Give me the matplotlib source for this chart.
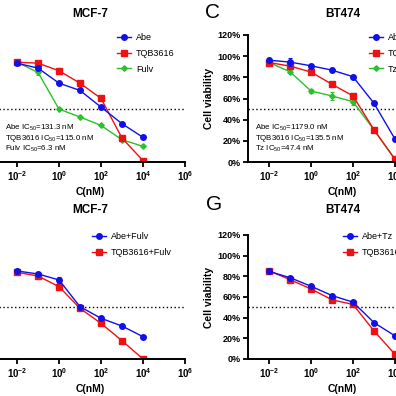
import numpy as np
import matplotlib.pyplot as plt

plt.rcParams["font.family"] = ["Liberation Sans", "DejaVu Sans"]
plt.rcParams["mathtext.fontset"] = "custom"
plt.rcParams["mathtext.rm"] = "Liberation Sans"
plt.rcParams["mathtext.bf"] = "Liberation Sans:bold"
plt.rcParams["mathtext.it"] = "Liberation Sans:italic"

conc = [1e-2, 1e-1, 1e0, 1e1, 1e2, 1e3, 1e4]

# MCF-7 single agents
mcf_abe = [93.4, 88.7, 74.5, 67.6, 51.9, 36.2, 23.3]
mcf_tqb = [94.3, 93.4, 86.2, 74.5, 60.1, 22.6, 1.3]
mcf_fulv = [94.3, 84.6, 50.0, 42.5, 34.6, 21.0, 14.8]
mcf_abe_err = [0.8, 1.0, 1.2, 1.2, 1.0, 1.0, 1.0]
mcf_tqb_err = [0.8, 1.0, 2.5, 2.5, 1.5, 1.2, 1.0]
mcf_fulv_err = [0.8, 2.0, 0.8, 0.8, 0.8, 0.8, 0.8]

# BT474 single agents
bt_abe = [96.2, 94.4, 90.9, 86.8, 80.6, 55.5, 21.6]
bt_tqb = [94.0, 90.6, 85.0, 73.4, 62.4, 30.4, 2.5]
bt_tz = [94.0, 85.3, 67.1, 62.4, 57.0, 30.4, 2.5]
bt_abe_err = [2.0, 3.5, 1.0, 1.0, 1.0, 2.0, 1.2]
bt_tqb_err = [1.0, 1.5, 1.0, 1.0, 3.0, 1.0, 1.0]
bt_tz_err = [1.0, 1.5, 1.5, 3.5, 3.0, 1.0, 1.0]

# combos
mcf_abe_fulv = [85.2, 82.3, 76.5, 50.6, 39.4, 31.9, 21.6]
mcf_tqb_fulv = [83.9, 80.3, 70.0, 49.0, 34.5, 17.7, 0.0]
mcf_abe_fulv_err = [1.0, 1.0, 2.5, 1.5, 1.0, 1.0, 1.0]
mcf_tqb_fulv_err = [1.0, 1.0, 1.0, 1.0, 1.0, 1.0, 1.0]
bt_abe_tz = [84.8, 78.7, 70.4, 61.4, 55.0, 35.2, 22.4]
bt_tqb_tz = [85.4, 76.8, 67.8, 57.3, 52.8, 27.2, 4.5]
bt_abe_tz_err = [1.0, 1.5, 1.0, 1.0, 1.0, 1.0, 1.0]
bt_tqb_tz_err = [1.0, 2.0, 1.2, 1.5, 1.0, 2.5, 1.5]

xticks = [1e-2, 1e0, 1e2, 1e4, 1e6]
xticklabels = [r"$\mathbf{10^{-2}}$", r"$\mathbf{10^{0}}$", r"$\mathbf{10^{2}}$",
               r"$\mathbf{10^{4}}$", r"$\mathbf{10^{6}}$"]
yticks = [0, 20, 40, 60, 80, 100, 120]
yticklabels = ["0%", "20%", "40%", "60%", "80%", "100%", "120%"]

BLUE = "#1010e8"
RED = "#ee1111"
GREEN = "#2cc02c"

W = H = 396.0
fig = plt.figure(figsize=(3.96, 3.96), dpi=100)


def make_axes(x0, y_top, y_base, title, title_pad, show_y=True):
    ax = fig.add_axes([x0 / W, 1 - y_base / H, 189 / W, (y_base - y_top) / H])
    ax.set_xscale("log")
    ax.set_xlim(1e-3, 1e6)
    ax.set_ylim(0, 120)
    ax.set_xticks(xticks)
    ax.set_xticklabels(xticklabels, fontsize=7)
    ax.xaxis.set_minor_locator(plt.NullLocator())
    ax.set_yticks(yticks)
    for s in ["top", "right"]:
        ax.spines[s].set_visible(False)
    for s in ["left", "bottom"]:
        ax.spines[s].set_linewidth(1.4)
    ax.tick_params(width=1.3, length=3.5, pad=1.5)
    if show_y:
        ax.set_yticklabels(yticklabels, fontsize=6.5, fontweight="bold")
        ax.set_ylabel("Cell viability", fontsize=7.5, fontweight="bold", labelpad=3)
    else:
        # y axis of the left panels lies outside the crop
        ax.set_yticklabels([])
    ax.set_xlabel("C(nM)", fontsize=7.5, fontweight="bold", labelpad=3)
    ax.set_title(title, fontsize=8.5, fontweight="bold", pad=title_pad)
    ax.axhline(50, color="black", lw=1.0, ls=(0, (1, 1.8)))
    ax.patch.set_alpha(0)
    return ax


def series(ax, y, err, color, marker, ms, label):
    ax.errorbar(conc, y, yerr=err, fmt="none", ecolor=color,
                elinewidth=0.8, capsize=1.5, capthick=0.8)
    ax.plot(conc, y, color=color, marker=marker, ms=ms, lw=1.0, label=label)


def legend(ax, x, y):
    h, l = ax.get_legend_handles_labels()
    ax.legend(h[::-1], l[::-1], loc="upper left", bbox_to_anchor=(x / W, 1 - y / H),
              bbox_transform=fig.transFigure, frameon=False, fontsize=6.5,
              handlelength=1.6, handletextpad=0.5, labelspacing=0.75, borderpad=0,
              borderaxespad=0)


# top-left MCF-7
ax1 = make_axes(-4, 35, 162, "MCF-7", 13, show_y=False)
series(ax1, mcf_fulv, mcf_fulv_err, GREEN, "D", 2.8, "Fulv")
series(ax1, mcf_tqb, mcf_tqb_err, RED, "s", 4, "TQB3616")
series(ax1, mcf_abe, mcf_abe_err, BLUE, "o", 4, "Abe")
legend(ax1, 117, 33)
for i, t in enumerate([r"Abe IC$_{50}$=131.3 nM", r"TQB3616 IC$_{50}$=115.0 nM",
                       r"Fulv IC$_{50}$=6.3 nM"]):
    fig.text(5 / W, 1 - (128 + 10.5 * i) / H, t, fontsize=5.7, va="center")

# top-right BT474
ax2 = make_axes(248, 35, 162, "BT474", 13)
series(ax2, bt_tz, bt_tz_err, GREEN, "D", 2.8, "Tz")
series(ax2, bt_tqb, bt_tqb_err, RED, "s", 4, "TQB3616")
series(ax2, bt_abe, bt_abe_err, BLUE, "o", 4, "Abe")
legend(ax2, 369, 33)
for i, t in enumerate([r"Abe IC$_{50}$=1179.0 nM", r"TQB3616 IC$_{50}$=135.5 nM",
                       r"Tz IC$_{50}$=47.4 nM"]):
    fig.text(255 / W, 1 - (128 + 10.5 * i) / H, t, fontsize=5.7, va="center")

# bottom-left MCF-7 combos
ax3 = make_axes(-4, 235, 359, "MCF-7", 16, show_y=False)
series(ax3, mcf_tqb_fulv, mcf_tqb_fulv_err, RED, "s", 4, "TQB3616+Fulv")
series(ax3, mcf_abe_fulv, mcf_abe_fulv_err, BLUE, "o", 4, "Abe+Fulv")
legend(ax3, 92, 232)

# bottom-right BT474 combos
ax4 = make_axes(248, 235, 359, "BT474", 16)
series(ax4, bt_tqb_tz, bt_tqb_tz_err, RED, "s", 4, "TQB3616+Tz")
series(ax4, bt_abe_tz, bt_abe_tz_err, BLUE, "o", 4, "Abe+Tz")
legend(ax4, 343, 232)

fig.text(213 / W, 1 - 13 / H, "C", fontsize=15, ha="center", va="center")
fig.text(214 / W, 1 - 205 / H, "G", fontsize=15, ha="center", va="center")

fig.savefig("out.png", dpi=100)
